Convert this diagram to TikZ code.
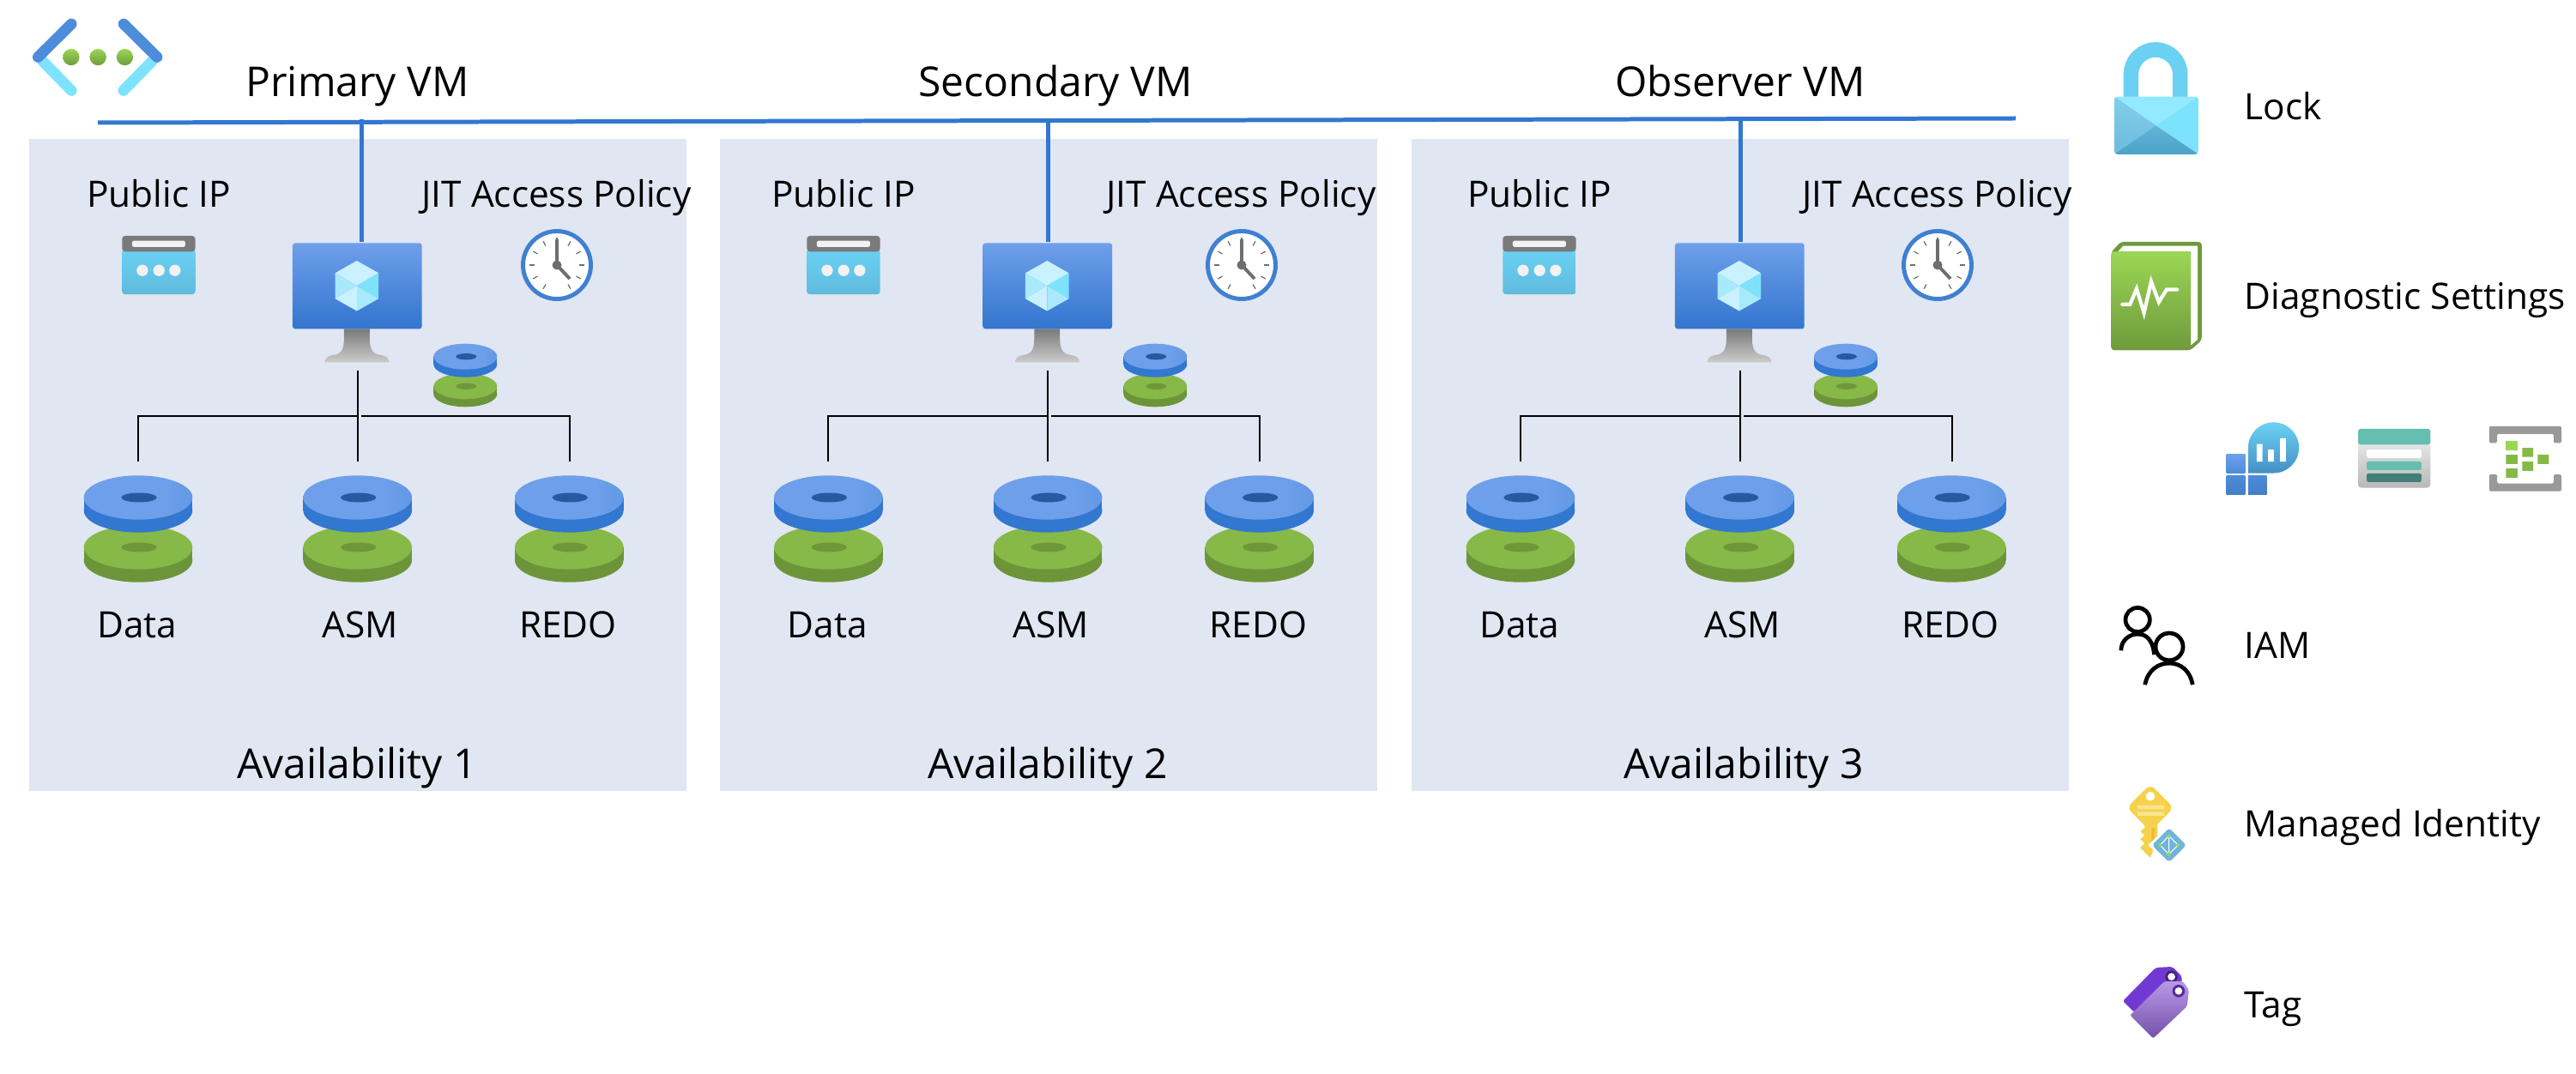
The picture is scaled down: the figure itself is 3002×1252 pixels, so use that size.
\documentclass[tikz,border=0pt]{standalone}
\usepackage{fontspec}
\newfontfamily\segoe{Open Sans}
\definecolor{panelbg}{HTML}{E0E6F2}
\definecolor{busblue}{HTML}{3277D0}
\definecolor{scrtop}{HTML}{6E9FEA}
\definecolor{scrbot}{HTML}{3375CF}
\definecolor{dbluea}{HTML}{6E9FEA}
\definecolor{dblueb}{HTML}{4C8CDA}
\definecolor{dblueside}{HTML}{3277D0}
\definecolor{dbluehole}{HTML}{255B9E}
\definecolor{dgreen}{HTML}{86B947}
\definecolor{dgreenside}{HTML}{6C9539}
\definecolor{dgreenhole}{HTML}{6F9739}
\definecolor{ipblue}{HTML}{6BD1F3}
\definecolor{ipblueb}{HTML}{5FBBDD}
\definecolor{ipgray}{HTML}{7A7A7A}
\definecolor{offw}{HTML}{F2F2F2}
\definecolor{clockring}{HTML}{3F80D2}
\definecolor{clockhand}{HTML}{6E6E6E}
\definecolor{cubea}{HTML}{C9F1FF}
\definecolor{cubeb}{HTML}{A9E9FC}
\definecolor{cubec}{HTML}{7DE3FD}
\definecolor{teala}{HTML}{65BFB0}
\definecolor{tealb}{HTML}{417F77}
\definecolor{bracket}{HTML}{999999}
\definecolor{bookdark}{HTML}{6F9A3C}
\definecolor{booklight}{HTML}{9BD755}
\definecolor{keyy}{HTML}{F5D24A}
\definecolor{keyp}{HTML}{F9E48F}
\definecolor{keyo}{HTML}{F0B840}
\definecolor{diam}{HTML}{6FB4DA}
\definecolor{tagback}{HTML}{7239D2}
\definecolor{tagfa}{HTML}{B998E6}
\definecolor{tagfb}{HTML}{7450A8}
\definecolor{locktop}{HTML}{93E9FF}
\definecolor{lockleft}{HTML}{82CFEA}
\definecolor{lockleftb}{HTML}{6DBBDD}
\definecolor{lockbot}{HTML}{62B4D8}
\definecolor{lockbotb}{HTML}{4CA2C7}
\pgfdeclarehorizontalshading{diskshade}{100bp}{color(0bp)=(dbluea); color(62bp)=(dbluea); color(100bp)=(dblueb)}
\usetikzlibrary{calc}
\tikzset{
  zoomat/.style 2 args={shift={(#1,#2)},x=0.00333333cm,y=-0.00333333cm},
  zoomfour/.style={shift={(2420,680)},x=0.003717cm,y=-0.0037cm},
  lblsmall/.style={anchor=base,inner sep=0pt,font=\segoe\fontsize{12.05}{14}\selectfont,text=black},
  lbllarge/.style={anchor=base,inner sep=0pt,font=\segoe\fontsize{13.65}{16}\selectfont,text=black},
  lblleft/.style={anchor=base west,inner sep=0pt,font=\segoe\fontsize{12.05}{14}\selectfont,text=black},
  busline/.style={draw=busblue,line width=1.42pt},
  treeline/.style={draw=black,line width=0.55pt},
  panelbox/.style={fill=panelbg}
}
% cx, cy blue, cy green, rx, ry, depth, hole rx, hole ry
\newcommand{\discpair}[8]{%
  \fill[dgreenside] ({#1-#4},#3) rectangle ({#1+#4},{#3+#6});
  \fill[dgreenside] (#1,{#3+#6}) ellipse [x radius=#4,y radius=#5];
  \fill[dgreen] (#1,#3) ellipse [x radius=#4,y radius=#5];
  \fill[dgreenhole] ({#1+1},#3) ellipse [x radius=#7,y radius=#8];
  \fill[dblueside] ({#1-#4},#2) rectangle ({#1+#4},{#2+#6});
  \fill[dblueside] (#1,{#2+#6}) ellipse [x radius=#4,y radius=#5];
  \shade[shading=diskshade] (#1,#2) ellipse [x radius=#4,y radius=#5];
  \fill[dbluehole] ({#1+1},#2) ellipse [x radius=#7,y radius=#8];
}
% id, panel x, dx icons, dx ip and clock, bar x, availability x, availability label, dx small disc
\newcommand{\availpanel}[8]{%
  \fill[panelbox] (#2,162) rectangle ({#2+766},922);
  % public IP and clock
  \begin{scope}[shift={(#4,0)}]
    \begin{scope}[zoomat={130}{260}]
      \shade[top color=ipblue,bottom color=ipblueb,rounded corners=1pt] (37,90) rectangle (293,250);
      \fill[ipgray,rounded corners=1pt] (37,100) -- (37,45) -- (293,45) -- (293,100) -- cycle;
      \fill[offw,rounded corners=0.6pt] (72,62) rectangle (258,84);
      \fill[offw] (108,166) circle (20) (166,166) circle (20) (222,166) circle (20);
    \end{scope}
    \node[lblsmall] (ip#1) at (185,242) {Public IP};
    \node[lblsmall] (jit#1) at (648.5,242) {JIT Access Policy};
    \fill[white] (649,309) circle (41);
    \draw[clockring,line width=1.4pt] (649,309) circle (39.5);
    \foreach \a in {30,60,0,180,210,240,270,300,330,150,120} {
      \draw[clockhand,line width=0.35pt] ($(649,309)+(\a:26)$) -- ($(649,309)+(\a:32)$);
    }
    \draw[clockhand,line width=1.1pt] (649,309) -- (649,279);
    \draw[clockhand,line width=1.1pt] (649,309) -- (664,325);
    \fill[clockhand] (649,309) circle (5.5);
  \end{scope}
  \begin{scope}[shift={(#8,0)}]
    \discpair{542.3}{415.7}{450.3}{37}{15}{9}{12}{3.7}
  \end{scope}
  % VM
  \begin{scope}[shift={(#3,0)}]
    \begin{scope}[zoomat={320}{270}]
      \shade[top color=ipgray,bottom color=black!20] (243,341) -- (333,341) -- (333,375) .. controls (333,415) and (345,430) .. (375,433) .. controls (392,436) and (400,445) .. (402,458) -- (175,458) .. controls (177,445) and (185,436) .. (202,433) .. controls (232,430) and (243,415) .. (243,375) -- cycle;
      \shade[top color=scrtop,bottom color=scrbot,rounded corners=0.9pt] (63,40) rectangle (516,341);
      \fill[cubea] (212,145) -- (288,102) -- (364,145) -- (288,190) -- cycle;
      \fill[cubeb] (212,145) -- (288,190) -- (212,235) -- cycle;
      \fill[cubec] (364,145) -- (288,190) -- (364,235) -- cycle;
      \fill[cubea] (212,235) -- (288,190) -- (288,278) -- cycle;
      \fill[cubeb] (288,190) -- (364,235) -- (288,278) -- cycle;
    \end{scope}
    \discpair{161}{580}{638}{63.3}{25.7}{15}{20.7}{5.5}
    \discpair{416.7}{580}{638}{63.3}{25.7}{15}{20.7}{5.5}
    \discpair{663.3}{580}{638}{63.3}{25.7}{15}{20.7}{5.5}
    \node[lblsmall] (data#1) at (160,743) {Data};
    \node[lblsmall] (asm#1) at (420,743) {ASM};
    \node[lblsmall] (redo#1) at (662,743) {REDO};
    \coordinate (tt#1) at (416.7,432);
    \coordinate (tj#1) at (416.7,485);
    \coordinate (tjr#1) at (421,485);
    \coordinate (tla#1) at (161,485);
    \coordinate (tlb#1) at (161,537.7);
    \coordinate (tma#1) at (416.7,537.7);
    \coordinate (tra#1) at (663.6,485);
    \coordinate (trb#1) at (663.6,537.7);
    \draw[treeline] (tt#1) -- (tma#1);
    \draw[treeline] (tj#1) -- (tla#1) -- (tlb#1);
    \draw[treeline] (tjr#1) -- (tra#1) -- (trb#1);
  \end{scope}
  \node[lbllarge] (av#1) at (#6,907) {#7};
  \coordinate (bt#1) at (#5,139);
  \coordinate (bb#1) at (#5,282);
  \draw[busline] (bt#1) -- (bb#1);
}
\begin{document}
\begin{tikzpicture}[x=0.01cm,y=-0.01cm]
\useasboundingbox (0,0) rectangle (3002,1252);
\fill[white] (0,0) rectangle (3002,1252);
% network icon
\begin{scope}[zoomat={20}{10}]
  \draw[cubec,line width=3.6pt,line cap=round] (90,185) -- (190,287);
  \draw[cubec,line width=3.6pt,line cap=round] (472,185) -- (372,287);
  \draw[dblueb,line width=3.6pt,line cap=round] (73,170) -- (190,54);
  \draw[dblueb,line width=3.6pt,line cap=round] (490,170) -- (373,54);
  \shade[top color=booklight,bottom color=bookdark] (189,170) circle (29);
  \shade[top color=booklight,bottom color=bookdark] (283,170) circle (29);
  \shade[top color=booklight,bottom color=bookdark] (377,170) circle (29);
\end{scope}
\availpanel{1}{34}{0}{0}{421.5}{416}{Availability 1}{0}
\availpanel{2}{839}{804.4}{798}{1221.8}{1221}{Availability 2}{804}
\availpanel{3}{1645}{1611}{1609}{2028}{2032}{Availability 3}{1608.6}
\coordinate (busl) at (114,143);
\coordinate (busr) at (2349,138);
\draw[busline] (busl) -- (busr);
\node[lbllarge] (pvm) at (416.5,113) {Primary VM};
\node[lbllarge] (svm) at (1230,113) {Secondary VM};
\node[lbllarge] (ovm) at (2028,113) {Observer VM};
% lock
\begin{scope}[zoomat={2440}{40}]
  \draw[ipblue,line width=5pt] (130.5,225) -- (130.5,140) arc[start angle=180,end angle=360,radius=86] -- (302.5,225);
  \begin{scope}
    \path[clip,rounded corners=1pt] (72,218) rectangle (366,420);
    \fill[cubec] (72,218) rectangle (366,420);
    \fill[locktop] (72,218) -- (366,218) -- (218,320) -- cycle;
    \shade[top color=lockleft,bottom color=lockleftb] (72,218) -- (218,320) -- (72,420) -- cycle;
    \shade[top color=lockbot,bottom color=lockbotb] (218,320) -- (366,420) -- (72,420) -- cycle;
  \end{scope}
\end{scope}
\node[lblleft] (lock) at (2615,140) {Lock};
% book
\begin{scope}[zoomat={2440}{270}]
  \fill[bookdark,rounded corners=1pt] (62,70) -- (95,36) -- (378,36) -- (378,380) -- (340,415) -- (62,415) -- cycle;
  \fill[white] (85,70) -- (103,50) -- (364,50) -- (364,378) -- (340,398) -- (340,70) -- cycle;
  \shade[top color=booklight,bottom color=bookdark,rounded corners=0.8pt] (62,70) rectangle (340,415);
  \draw[white,line width=1.2pt,line join=miter,line cap=round] (100,255) -- (127,255) -- (150,200) -- (176,285) -- (201,175) -- (228,247) -- (255,203) -- (292,203);
\end{scope}
\node[lblleft] (diag) at (2615,361) {Diagnostic Settings};
% three small icons
\begin{scope}[zoomat={2570}{470}]
  \shade[top color=scrtop,bottom color=dblueb] (74,180) rectangle (139,245);
  \shade[top color=dblueb,bottom color=dblueb!90!black] (74,255) rectangle (139,320);
  \shade[top color=dblueb,bottom color=dblueb!90!black] (150,255) rectangle (215,320);
  \shade[top color=ipblue,bottom color=ipblue!45!dbluehole] (150,245) -- (239,245) arc[start angle=90,end angle=-180,radius=89] -- cycle;
  \fill[white] (180,143) rectangle (200,205) (220,163) rectangle (240,205) (262,123) rectangle (282,205);
  \shade[top color=black!8,bottom color=black!28,rounded corners=1pt] (535,120) -- (535,296) -- (788,296) -- (788,120) -- cycle;
  \fill[teala,rounded corners=0.8pt] (535,145) -- (535,90) -- (788,90) -- (788,145) -- cycle;
  \fill[white,rounded corners=0.5pt] (565,162) rectangle (757,192);
  \fill[teala,rounded corners=0.5pt] (565,204) rectangle (757,234);
  \fill[tealb,rounded corners=0.5pt] (565,246) rectangle (757,276);
  \fill[bracket,rounded corners=0.4pt] (994,139) -- (994,81) -- (1247,81) -- (1247,139) -- (1220,139) -- (1220,108) -- (1022,108) -- (1022,139) -- cycle;
  \fill[bracket,rounded corners=0.4pt] (994,250) -- (1022,250) -- (1022,281) -- (1220,281) -- (1220,250) -- (1247,250) -- (1247,308) -- (994,308) -- cycle;
  \fill[booklight] (1053,133) rectangle (1093,165);
  \fill[dgreen] (1053,181) rectangle (1093,213) (1053,229) rectangle (1093,261) (1110,157) rectangle (1148,188) (1110,205) rectangle (1148,237) (1164,181) rectangle (1203,213);
\end{scope}
% people
\begin{scope}[zoomfour]
  \draw[black,line width=1.35pt] (191,115) circle (38);
  \draw[black,line width=1.35pt] (139,212) .. controls (139,180) and (165,160) .. (192,160) .. controls (225,160) and (240,190) .. (243,225);
  \draw[black,line width=1.35pt] (290,200) circle (43);
  \draw[black,line width=1.35pt] (214,320) .. controls (222,275) and (255,252) .. (290,252) .. controls (325,252) and (355,275) .. (363,320);
\end{scope}
\node[lblleft] (iam) at (2615,767) {IAM};
% key and tag
\begin{scope}[zoomat={2450}{900}]
  \fill[keyy,rounded corners=2pt] (168,43) -- (250,125) -- (168,207) -- (86,125) -- cycle;
  \fill[keyy] (148,185) -- (193,185) -- (193,240) -- (168,300) -- (132,265) -- (148,250) -- (133,235) -- (148,222) -- (133,208) -- (148,195) -- cycle;
  \fill[keyo] (172,195) -- (183,195) -- (183,245) -- (172,255) -- cycle;
  \fill[white] (168,85) circle (16);
  \fill[keyp] (123,116) rectangle (216,130) (123,139) rectangle (216,153);
  \fill[white] (234,186) -- (304,256) -- (234,326) -- (160,256) -- cycle;
  \fill[diam,rounded corners=1pt] (234,196) -- (294,256) -- (234,316) -- (174,256) -- cycle;
  \draw[white,line width=0.3pt] (233,224) -- (202,256) -- (233,288) -- (265,256) -- cycle (233,224) -- (233,288);
  \fill[booklight] (233,224) circle (6) (202,256) circle (6) (233,288) circle (7) (265,256) circle (6);
  % tag
  \fill[tagback,rounded corners=0.6pt] (72,802) -- (187,685) -- (245,682) -- (278,715) -- (278,745) -- (110,840) -- cycle;
  \fill[black!40!tagback] (242,717) circle (22);
  \fill[white] (242,717) circle (13);
  \shade[top color=tagfa,bottom color=tagfb,rounded corners=0.6pt] (97,852) -- (218,733) -- (282,733) -- (303,763) -- (297,820) -- (178,933) -- cycle;
  \fill[black!25!tagback] (267,767) circle (22);
  \fill[white] (267,767) circle (13);
\end{scope}
\node[lblleft] (mid) at (2615,975) {Managed Identity};
\node[lblleft] (tag) at (2615,1186) {Tag};
\end{tikzpicture}
\end{document}
